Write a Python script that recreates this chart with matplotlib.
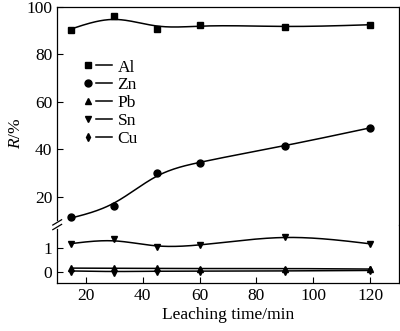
import matplotlib.pyplot as plt
import numpy as np
from matplotlib.legend_handler import HandlerTuple
from matplotlib.lines import Line2D

plt.rcParams['font.family'] = ['Liberation Serif', 'DejaVu Serif']
plt.rcParams['mathtext.fontset'] = 'custom'
plt.rcParams['mathtext.it'] = 'Liberation Serif:italic'

# Leaching time (min) and recovery R (%)
time = [15, 30, 45, 60, 90, 120]
al = [90.1, 96.0, 90.6, 92.2, 91.6, 92.4]
zn = [11.5, 16.0, 30.0, 34.0, 41.5, 49.0]
pb = [0.15, 0.14, 0.14, 0.13, 0.13, 0.11]
sn = [1.17, 1.39, 1.03, 1.15, 1.47, 1.18]
cu = [0.03, 0.0, 0.02, 0.02, 0.03, 0.05]


def smooth_curve(x, y, lam=150.0, step=0.5):
    # penalised smoothing (roughly a smoothing spline) on a fine grid
    x = np.asarray(x, float)
    y = np.asarray(y, float)
    grid = np.arange(x.min(), x.max() + step / 2, step)
    n = len(grid)
    idx = np.rint((x - grid[0]) / step).astype(int)
    W = np.zeros((n, n))
    b = np.zeros(n)
    W[idx, idx] = 1.0
    b[idx] = y
    D = np.diff(np.eye(n), 2, axis=0)
    A = W + lam / step ** 3 * D.T @ D
    return grid, np.linalg.solve(A, b)


fig = plt.figure(figsize=(4, 3.31), dpi=100)
ax_top = fig.add_axes([0.143, 0.321, 0.854, 0.659])
ax_bot = fig.add_axes([0.143, 0.144, 0.854, 0.177], sharex=ax_top)

top_series = [(al, 's', 'Al', 5), (zn, 'o', 'Zn', 5)]
bot_series = [(pb, '^', 'Pb', 5), (sn, 'v', 'Sn', 5), (cu, 'd', 'Cu', 4.2)]

handles = []
for ax, series in [(ax_top, top_series), (ax_bot, bot_series)]:
    for y, m, name, ms in series:
        gx, gy = smooth_curve(time, y)
        ax.plot(gx, gy, color='black', lw=1.1)
        ax.plot(time, y, m, color='black', ms=ms, ls='none')
for y, m, name, ms in top_series + bot_series:
    handles.append((Line2D([], [], marker=m, color='black', ms=ms, ls='none'),
                    Line2D([], [], color='black', lw=1.1)))
labels = [s[2] for s in top_series + bot_series]

ax_top.set_ylim(8.2, 100)
ax_top.set_yticks([20, 40, 60, 80, 100])
ax_bot.set_ylim(-0.5, 2.0)
ax_bot.set_yticks([0, 1])
ax_bot.set_xlim(10, 130)
ax_bot.set_xticks([20, 40, 60, 80, 100, 120])

for ax in (ax_top, ax_bot):
    ax.tick_params(direction='in', length=4, width=0.8, labelsize=12.5,
                   top=False, right=False)
    for sp in ax.spines.values():
        sp.set_linewidth(0.9)
    ax.patch.set_alpha(0)
ax_top.spines['bottom'].set_visible(False)
ax_bot.spines['top'].set_visible(False)
ax_top.tick_params(axis='x', bottom=False, labelbottom=False)

# axis break on the left spine
yb = 1 - 224.7 / 331
xl = 0.143
fig.add_artist(Line2D([xl, xl], [yb - 0.007, yb + 0.007], color='white', lw=2))
for dy in (-0.007, 0.007):
    fig.add_artist(Line2D([xl - 0.011, xl + 0.011], [yb + dy - 0.008, yb + dy + 0.008],
                          color='black', lw=0.9))

ax_bot.set_xlabel('Leaching time/min', fontsize=12.5, labelpad=2)
fig.text(0.04, 1 - 133 / 331, '$R$/%', rotation=90, fontsize=12.5,
         ha='center', va='center')

ax_top.legend(handles, labels, handler_map={tuple: HandlerTuple(ndivide=None, pad=0)},
              loc='upper left', bbox_to_anchor=(0.065, 0.758), frameon=False,
              borderpad=0, borderaxespad=0, handlelength=1.9, handletextpad=0.3,
              labelspacing=0.1, fontsize=12.5)

fig.savefig('out.png', dpi=100)
